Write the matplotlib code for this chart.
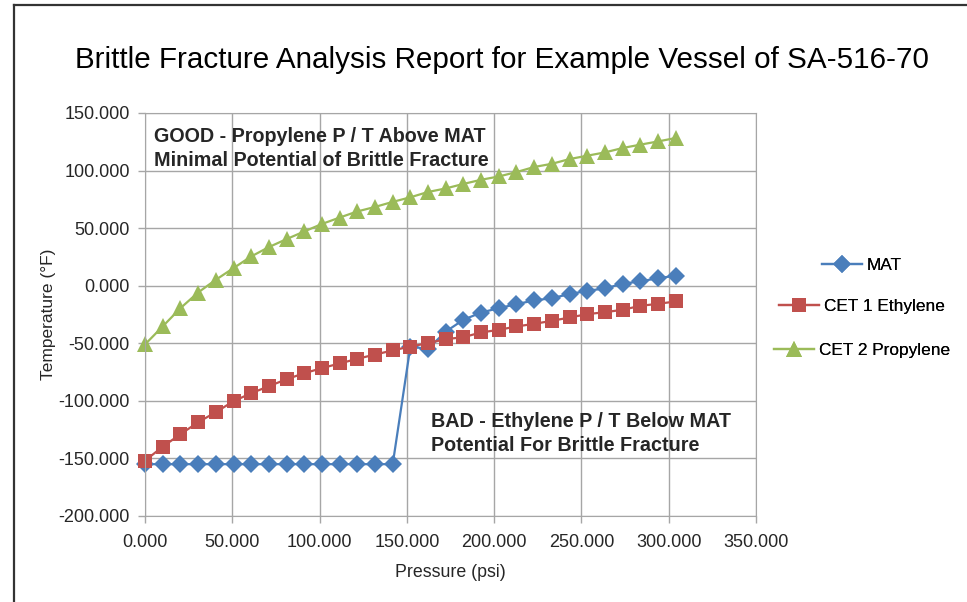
import numpy as np
import matplotlib
matplotlib.use("Agg")
import matplotlib.pyplot as plt
from matplotlib.lines import Line2D
from matplotlib.ticker import FormatStrFormatter, MultipleLocator

plt.rcParams['font.family'] = ['Liberation Sans', 'DejaVu Sans']

# pressure (psi)
pressure = [0.0, 10.1, 20.3, 30.4, 40.5, 50.7, 60.8, 70.9, 81.1, 91.2,
            101.3, 111.5, 121.6, 131.7, 141.9, 152.0, 162.1, 172.3, 182.4, 192.5,
            202.7, 212.8, 222.9, 233.1, 243.2, 253.3, 263.5, 273.6, 283.7, 293.9,
            304.0]

# temperatures (F)
mat = [-155, -155, -155, -155, -155, -155, -155, -155, -155, -155,
       -155, -155, -155, -155, -155, -53, -54.8, -39.8, -29.6, -23.3,
       -19.5, -16.0, -12.8, -10.8, -7.3, -4.4, -2.4, 1.8, 3.7, 6.6,
       8.6]
cet1 = [-152, -139.8, -129.0, -118.6, -109.9, -100.3, -93.4, -87.3, -81.2, -76.0,
        -71.6, -67.5, -63.5, -59.8, -56.2, -52.8, -49.9, -46.4, -44.7, -40.6,
        -38.3, -35.4, -33.1, -30.5, -27.6, -24.7, -23.0, -20.9, -17.5, -15.7,
        -13.7]
cet2 = [-51, -35.4, -19.5, -5.9, 5.1, 15.3, 25.4, 33.5, 40.5, 47.1,
        53.6, 59.2, 64.5, 68.4, 72.8, 76.8, 81.4, 84.5, 88.4, 92.0,
        94.9, 98.7, 103.1, 105.9, 110.0, 112.9, 115.8, 119.6, 122.5, 125.3,
        128.3]

labels = ['MAT', 'CET 1 Ethylene', 'CET 2 Propylene']
colors = ['#4a7ebb', '#c0504d', '#9bbb59']
markers = ['D', 's', '^']
msizes = [9, 10.5, 12]

W, H = 967, 602
fig = plt.figure(figsize=(W / 100, H / 100), dpi=100)
ax = fig.add_axes([145 / W, 1 - 516 / H, (756 - 145) / W, (516 - 113) / H])

handles = []
for y, lab, c, m, ms in zip([mat, cet1, cet2], labels, colors, markers, msizes):
    h, = ax.plot(pressure, y, color=c, lw=1.6, marker=m, ms=ms,
                 markeredgewidth=0, label=lab, clip_on=False)
    handles.append(h)

ax.set_xlim(0, 350)
ax.set_ylim(-200, 150)
ax.xaxis.set_major_locator(MultipleLocator(50))
ax.yaxis.set_major_locator(MultipleLocator(50))
ax.xaxis.set_major_formatter(FormatStrFormatter('%.3f'))
ax.yaxis.set_major_formatter(FormatStrFormatter('%.3f'))
ax.grid(True, color='#a6a6a6', lw=1)
ax.set_axisbelow(True)
for s in ax.spines.values():
    s.set_color('#a6a6a6')
ax.tick_params(colors='#a6a6a6', labelcolor='#262626', labelsize=13,
               length=5, width=1, direction='out')
ax.tick_params(axis='x', pad=8)
ax.tick_params(axis='y', pad=6)

ax.set_xlabel('Pressure (psi)', fontsize=12.8, color='#262626', labelpad=9)
ax.set_ylabel('Temperature (°F)', fontsize=12.5, color='#262626', labelpad=2)

fig.text(502 / W, 1 - 60 / H,
         'Brittle Fracture Analysis Report for Example Vessel of SA-516-70',
         ha='center', va='center', fontsize=21.3, color='black')

ax.text(5, 137.5, 'GOOD - Propylene P / T Above MAT\nMinimal Potential of Brittle Fracture',
        fontsize=14.2, fontweight='bold', color='#262626', va='top', ha='left',
        linespacing=1.32)
ax.text(164, -110, 'BAD - Ethylene P / T Below MAT\nPotential For Brittle Fracture',
        fontsize=14.2, fontweight='bold', color='#262626', va='top', ha='left',
        linespacing=1.32)

# legend entries, centred one above the other
leg_y = [265, 306, 350]
for h, yy in zip(handles, leg_y):
    leg = fig.legend(handles=[h], loc='center', bbox_to_anchor=(862 / W, 1 - yy / H),
                     frameon=False, fontsize=12.4, handlelength=2.3, handletextpad=0.3,
                     borderpad=0)
    fig.add_artist(leg)

# outer frame (left and top)
fig.add_artist(Line2D([14 / W, 14 / W], [0, 1 - 5 / H], color='#333333', lw=1.6))
fig.add_artist(Line2D([14 / W, 1], [1 - 5 / H, 1 - 5 / H], color='#333333', lw=1.6))

fig.savefig('out.png', dpi=100)
